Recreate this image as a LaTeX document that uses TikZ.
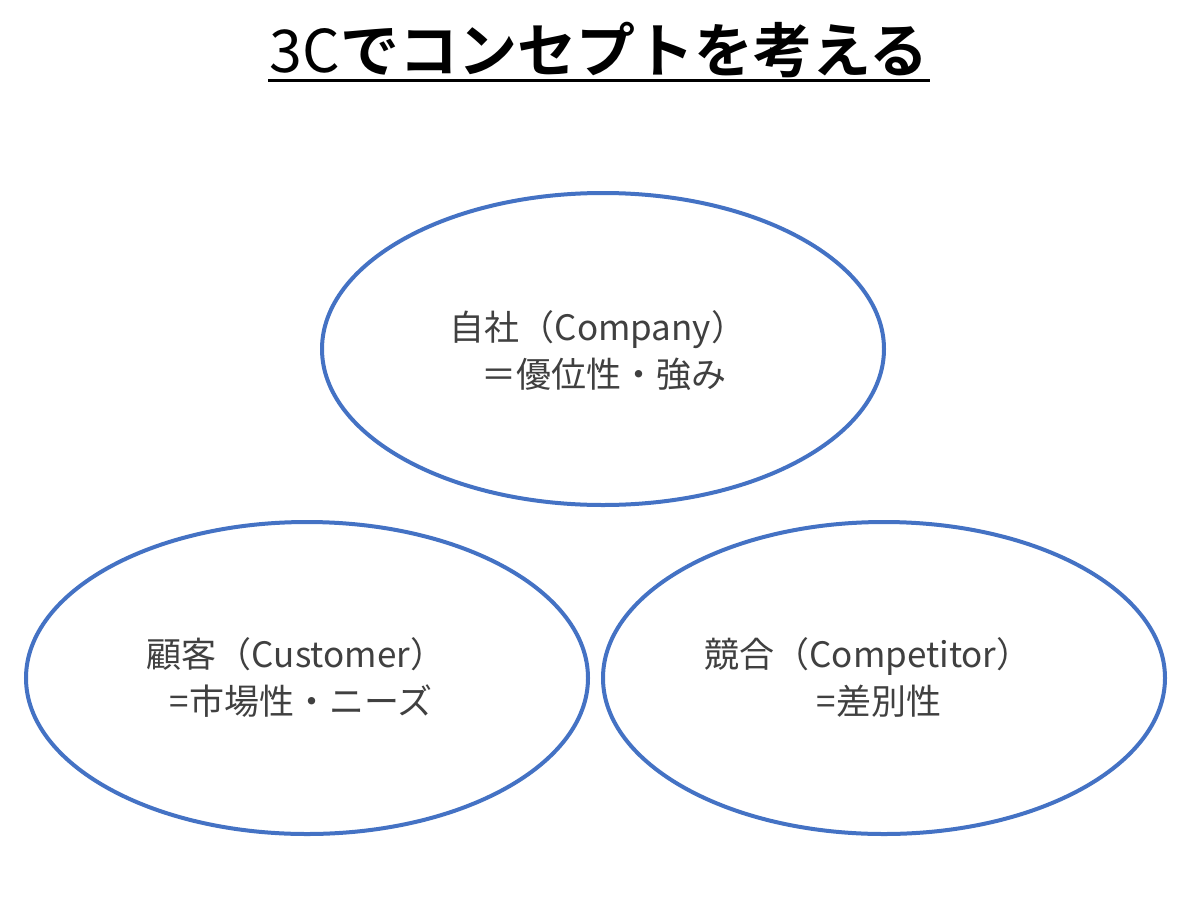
\documentclass[tikz,border=0pt]{standalone}
\usepackage{fontspec}
\setmainfont{Noto Sans CJK JP}
\newfontfamily\jpbold{Noto Sans CJK JP Bold}
\usetikzlibrary{shapes.geometric}
\definecolor{cblue}{HTML}{4472C4}
\definecolor{ctext}{HTML}{404040}
\begin{document}
\begin{tikzpicture}[x=1pt,y=-1pt,
  circ/.style={draw=cblue,line width=4pt,ellipse,minimum width=562pt,minimum height=312pt,inner sep=0pt},
  lbl/.style={text=ctext,align=center,font=\fontsize{35}{47}\selectfont,inner sep=0pt}]
\useasboundingbox[fill=white] (0,0) rectangle (1197,900);
\node[inner sep=0pt,font=\fontsize{59}{60}\selectfont] (title) at (599,50) {3C{\jpbold でコンセプトを考える}};
\draw[line width=3pt] (268,80) coordinate (ul1) -- (930,80) coordinate (ul2);
\node[circ] (company) at (603,349) {};
\node[circ] (customer) at (307,678) {};
\node[circ] (competitor) at (884,678) {};
\node[lbl] (t1) at (598,351) {自社（Company）\\\hspace*{12pt}＝優位性・強み};
\node[lbl] (t2) at (296,677) {顧客（Customer）\\\hspace*{10pt}=市場性・ニーズ};
\node[lbl] (t3) at (868,677) {競合（Competitor）\\\hspace*{22pt}=差別性};
\end{tikzpicture}
\end{document}
